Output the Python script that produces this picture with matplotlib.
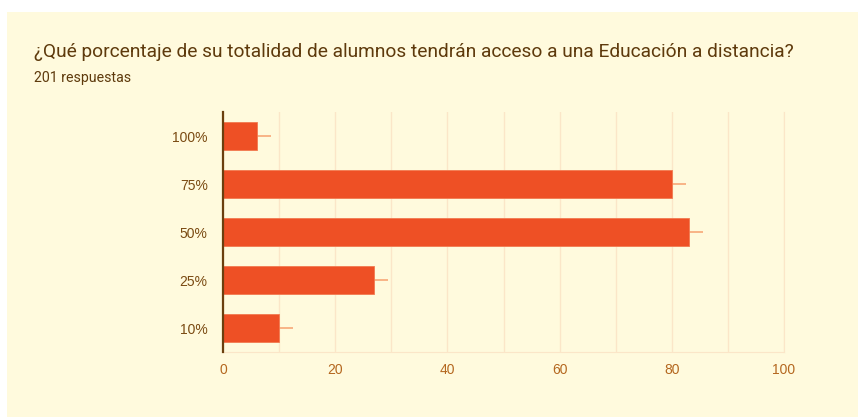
import matplotlib.pyplot as plt
from matplotlib.patches import Rectangle

# Data
categories = ["100%", "75%", "50%", "25%", "10%"]
counts = [6, 80, 83, 27, 10]
title = "¿Qué porcentaje de su totalidad de alumnos tendrán acceso a una Educación a distancia?"
subtitle = "201 respuestas"
x_ticks = [0, 20, 40, 60, 80, 100]

bg = "#FFFADD"
bar_color = "#EE5025"
whisker_color = "#F7A878"
grid_color = "#FBE6C8"
title_color = "#5E3A0C"
ylabel_color = "#7A4A12"
xlabel_color = "#B4671F"

fig = plt.figure(figsize=(8.58, 4.17), dpi=100)
fig.patch.set_facecolor("white")
fig.patches.append(Rectangle((7 / 858, 0), 1, 1 - 12 / 417, transform=fig.transFigure,
                             facecolor=bg, edgecolor="none", zorder=-1))

fig.text(34 / 858, 1 - 52 / 417, title, fontsize=13.8, color=title_color,
         family="Roboto", va="center", ha="left")
fig.text(34 / 858, 1 - 78 / 417, subtitle, fontsize=10.2, color=title_color,
         family="Roboto", va="center", ha="left")

ax = fig.add_axes([223 / 858, 1 - 352 / 417, (784 - 223) / 858, (352 - 112) / 417])
ax.set_facecolor(bg)

ypos = list(range(len(categories)))
ax.barh(ypos, counts, height=0.6, color=bar_color, edgecolor="#F27A50", linewidth=0.6, zorder=3)
ax.hlines(ypos, counts, [c + 2.5 for c in counts], color=whisker_color, linewidth=1.2, zorder=2)

ax.set_xlim(0, 100)
ax.set_ylim(len(categories) - 0.5, -0.5)
ax.set_yticks(ypos)
ax.set_yticklabels(categories, color=ylabel_color, fontsize=10, family="Liberation Sans")
ax.set_xticks(x_ticks)
ax.set_xticklabels([str(t) for t in x_ticks], color=xlabel_color, fontsize=10,
                   family="Liberation Sans")
ax.set_xticks(range(10, 100, 20), minor=True)
ax.tick_params(axis="both", which="both", length=0)
ax.tick_params(axis="y", pad=11)
ax.tick_params(axis="x", pad=8)

ax.grid(axis="x", which="both", color=grid_color, linewidth=1, zorder=0)
for side in ["top", "bottom", "right"]:
    ax.spines[side].set_color(grid_color)
ax.spines["top"].set_visible(False)
ax.spines["left"].set_color("#6B3F0E")
ax.spines["left"].set_linewidth(1.6)
ax.spines["left"].set_zorder(4)

fig.savefig("out.png", dpi=100, facecolor=fig.get_facecolor())
